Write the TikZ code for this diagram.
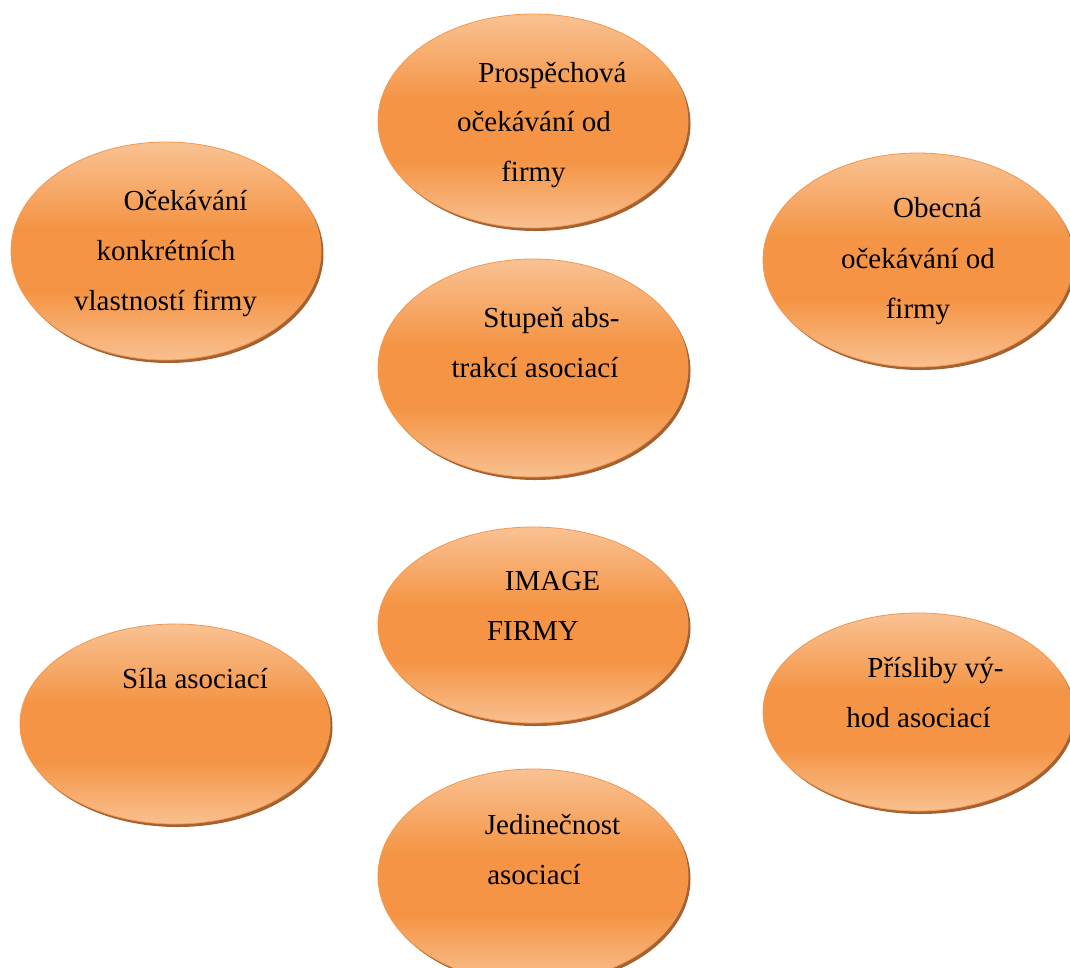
\documentclass[tikz,border=0pt]{standalone}
\usepackage{fontspec}
\setmainfont{Liberation Serif}
\usetikzlibrary{shapes.geometric,shadows}
\definecolor{toplight}{RGB}{249,194,147}
\definecolor{midorange}{RGB}{244,148,68}
\definecolor{botlight}{RGB}{249,192,144}
\definecolor{rimc}{RGB}{241,152,80}
\definecolor{shadowc}{RGB}{156,80,26}
\pgfdeclareverticalshading{bubbleshade}{100bp}{color(0bp)=(botlight); color(25bp)=(botlight); color(41bp)=(midorange); color(55bp)=(midorange); color(75bp)=(toplight); color(100bp)=(toplight)}
\tikzset{
  bubble/.style={ellipse, inner sep=0pt, minimum width=310pt, minimum height=214pt,
    draw=rimc, line width=0.8pt, shading=bubbleshade,
    drop shadow={shadow xshift=2.5pt, shadow yshift=-3pt, fill=shadowc, opacity=0.9}},
  lbl/.style={anchor=base, inner sep=0pt, font=\fontsize{29}{34}\selectfont, text=black}
}
\begin{document}
\begin{tikzpicture}[x=1pt,y=-1pt]
\useasboundingbox (0,0) rectangle (1070,967);
\clip (0,0) rectangle (1070,967);
% ellipses
\node[bubble] (e1) at (533,121) {};
\node[bubble, minimum height=218pt] (e2) at (166,251) {};
\node[bubble, minimum height=214pt] (e3) at (918,260) {};
\node[bubble, minimum height=218pt] (e4) at (533,368) {};
\node[bubble, minimum height=196pt] (e5) at (533,625) {};
\node[bubble, minimum height=200pt] (e6) at (175,724) {};
\node[bubble, minimum height=198pt] (e7) at (918,712) {};
\node[bubble, minimum height=214pt] (e8) at (533,876) {};
% texts
\node[lbl] (t1a) at (552.5,82) {Prospěchová};
\node[lbl] (t1b) at (534,131) {očekávání od};
\node[lbl] (t1c) at (533.5,181) {firmy};
\node[lbl] (t2a) at (185.5,210) {Očekávání};
\node[lbl] (t2b) at (166,260) {konkrétních};
\node[lbl] (t2c) at (165.5,310) {vlastností firmy};
\node[lbl] (t3a) at (937.5,217) {Obecná};
\node[lbl] (t3b) at (918,268) {očekávání od};
\node[lbl] (t3c) at (918,318) {firmy};
\node[lbl] (t4a) at (551.5,327) {Stupeň abs-};
\node[lbl] (t4b) at (535,377) {trakcí asociací};
\node[lbl] (t5a) at (552.5,590) {IMAGE};
\node[lbl] (t5b) at (533,640) {FIRMY};
\node[lbl] (t6a) at (195,688) {Síla asociací};
\node[lbl] (t7a) at (935.5,677) {Přísliby vý-};
\node[lbl] (t7b) at (918.5,727) {hod asociací};
\node[lbl] (t8a) at (552.5,834) {Jedinečnost};
\node[lbl] (t8b) at (534,884) {asociací};
\end{tikzpicture}
\end{document}
